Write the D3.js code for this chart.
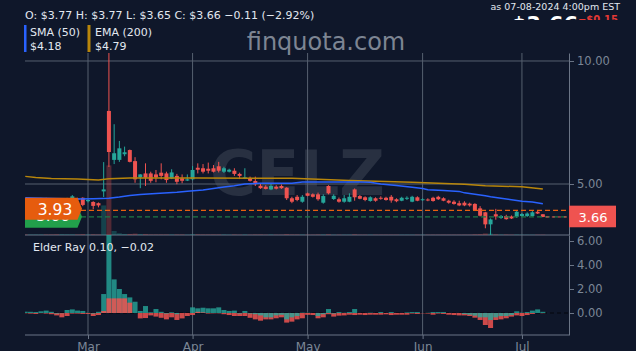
<!DOCTYPE html>
<html>
<head>
<meta charset="utf-8">
<script src="https://cdn.jsdelivr.net/npm/d3@7"></script>
<style>
  body { margin: 0; background: #0f172a; }
  svg { display: block; font-family: "DejaVu Sans", sans-serif; }
</style>
</head>
<body>
<svg id="chart" width="636" height="351"></svg>
<script>

// Trading days shown (Feb 13 - Jul 8, 2024), one list per month
var febDays = [13, 14, 15, 16, 20, 21, 22, 23, 26, 27, 28, 29]
var marDays = [1, 4, 5, 6, 7, 8, 11, 12, 13, 14, 15, 18, 19, 20, 21, 22, 25, 26, 27, 28]
var aprDays = [1, 2, 3, 4, 5, 8, 9, 10, 11, 12, 15, 16, 17, 18, 19, 22, 23, 24, 25, 26, 29, 30]
var mayDays = [1, 2, 3, 6, 7, 8, 9, 10, 13, 14, 15, 16, 17, 20, 21, 22, 23, 24, 28, 29, 30, 31]
var junDays = [3, 4, 5, 6, 7, 10, 11, 12, 13, 14, 17, 18, 20, 21, 24, 25, 26, 27, 28]
var julDays = [1, 2, 3, 5, 8]

// OHLC
var opens = [4.38, 4.34, 4.36, 4.40, 4.42, 4.35, 4.22, 4.12, 4.36, 4.40,
  4.42, 4.44, 4.30, 4.27, 4.22, 4.70, 7.97, 5.98, 5.98, 6.21,
  6.38, 5.93, 5.27, 5.43, 5.43, 5.39, 5.46, 5.43, 5.22, 5.33,
  5.23, 5.14, 5.19, 5.66, 5.64, 5.62, 5.64, 5.72, 5.50, 5.50,
  5.54, 5.41, 5.22, 5.23, 5.12, 4.93, 4.89, 4.78, 4.89, 4.92,
  4.85, 4.42, 4.48, 4.28, 4.62, 4.58, 4.58, 4.24, 4.92, 4.39,
  4.38, 4.28, 4.28, 4.78, 4.51, 4.46, 4.31, 4.42, 4.44, 4.44,
  4.48, 4.38, 4.32, 4.40, 4.28, 4.46, 4.35, 4.37, 4.44, 4.48,
  4.42, 4.32, 4.28, 4.22, 4.24, 4.20, 4.19, 4.01, 3.85, 3.36,
  3.77, 3.62, 3.70, 3.68, 3.67, 3.70, 3.70, 3.70, 3.87, 3.77]
var highs = [4.43, 4.42, 4.43, 4.44, 4.44, 4.38, 4.28, 4.43, 4.44, 4.55,
  4.44, 4.46, 4.38, 4.30, 4.25, 5.89, 11.0, 7.43, 6.75, 6.52,
  6.40, 6.09, 5.40, 5.84, 5.50, 5.57, 5.84, 5.50, 5.60, 5.41,
  5.39, 5.39, 5.73, 5.84, 5.81, 5.87, 5.77, 5.90, 5.70, 5.62,
  5.64, 5.46, 5.64, 5.30, 5.30, 5.00, 4.95, 5.00, 4.95, 4.98,
  4.87, 4.48, 4.55, 4.55, 4.65, 4.62, 4.65, 4.58, 4.95, 4.58,
  4.45, 4.55, 4.62, 4.82, 4.55, 4.50, 4.50, 4.46, 4.50, 4.48,
  4.55, 4.42, 4.48, 4.50, 4.52, 4.50, 4.42, 4.42, 4.48, 4.52,
  4.46, 4.36, 4.34, 4.32, 4.30, 4.24, 4.22, 4.10, 3.87, 3.60,
  3.99, 3.74, 3.75, 3.72, 3.92, 3.82, 3.85, 3.90, 3.92, 3.77]
var lows = [4.30, 4.28, 4.32, 4.35, 4.30, 4.18, 4.05, 4.10, 4.32, 4.36,
  4.32, 4.10, 4.25, 3.98, 4.05, 4.47, 5.69, 5.81, 5.90, 6.13,
  5.88, 5.05, 4.83, 4.92, 5.05, 5.07, 5.19, 5.05, 5.20, 4.99,
  5.03, 5.12, 5.15, 5.43, 5.43, 5.43, 5.47, 5.47, 5.45, 5.47,
  5.33, 5.20, 5.20, 5.10, 4.92, 4.80, 4.78, 4.75, 4.78, 4.80,
  4.35, 4.22, 4.30, 4.24, 4.50, 4.45, 4.32, 4.20, 4.58, 4.35,
  4.24, 4.24, 4.26, 4.32, 4.38, 4.30, 4.28, 4.28, 4.36, 4.32,
  4.24, 4.26, 4.30, 4.35, 4.26, 4.30, 4.32, 4.30, 4.28, 4.35,
  4.30, 4.20, 4.16, 4.10, 4.10, 4.08, 3.90, 3.68, 3.20, 2.80,
  3.55, 3.58, 3.55, 3.58, 3.62, 3.66, 3.66, 3.68, 3.78, 3.65]
var closes = [4.34, 4.36, 4.40, 4.42, 4.35, 4.22, 4.12, 4.36, 4.40, 4.50,
  4.36, 4.15, 4.35, 4.11, 4.13, 4.78, 6.30, 6.25, 6.45, 6.29,
  5.90, 5.19, 5.39, 5.26, 5.13, 5.27, 5.33, 5.16, 5.47, 5.09,
  5.13, 5.19, 5.57, 5.58, 5.50, 5.54, 5.50, 5.54, 5.64, 5.58,
  5.41, 5.33, 5.27, 5.13, 4.99, 4.83, 4.80, 4.92, 4.81, 4.83,
  4.42, 4.28, 4.35, 4.48, 4.52, 4.48, 4.38, 4.51, 4.62, 4.52,
  4.28, 4.42, 4.48, 4.46, 4.40, 4.35, 4.46, 4.32, 4.40, 4.35,
  4.33, 4.30, 4.44, 4.44, 4.48, 4.32, 4.38, 4.33, 4.31, 4.38,
  4.32, 4.24, 4.19, 4.13, 4.13, 4.13, 3.94, 3.71, 3.36, 3.56,
  3.68, 3.70, 3.57, 3.60, 3.87, 3.78, 3.80, 3.85, 3.80, 3.66]
// volume (millions, rough)
var volumes = [0.3, 0.3, 0.3, 0.3, 0.3, 0.3, 0.4, 0.5, 0.4, 0.4,
  0.3, 0.5, 0.3, 0.4, 0.3, 17, 40, 2.3, 1.0, 0.6,
  0.6, 0.8, 0.5, 0.5, 0.3, 0.3, 0.3, 0.3, 0.3, 0.3,
  0.3, 0.2, 0.5, 0.4, 0.3, 0.3, 0.3, 0.3, 0.3, 0.2,
  0.3, 0.2, 0.3, 0.2, 0.3, 0.3, 0.2, 0.3, 0.2, 0.2,
  0.5, 0.3, 0.3, 0.3, 0.2, 0.2, 0.3, 0.3, 0.4, 0.2,
  0.2, 0.2, 0.2, 0.4, 0.2, 0.2, 0.2, 0.2, 0.2, 0.2,
  0.2, 0.2, 0.2, 0.2, 0.2, 0.2, 0.2, 0.2, 0.2, 0.2,
  0.2, 0.2, 0.2, 0.2, 0.2, 0.2, 0.4, 0.5, 0.9, 0.8,
  0.4, 0.3, 0.3, 0.2, 0.3, 0.2, 0.2, 0.2, 0.2, 0.2]

// Elder Ray (bull power / bear power)
var bullPower = [0.11, 0.10, 0.08, 0.14, 0.20, 0.10, -0.05, -0.02, 0.25, 0.30,
  0.20, 0.17, 0.02, -0.05, 0.10, 1.58, 6.60, 2.80, 2.00, 1.58,
  1.30, 0.94, 0.17, 0.58, 0.06, 0.33, 0.10, -0.05, 0.06, -0.10,
  0.00, 0.00, 0.47, 0.39, 0.44, 0.39, 0.39, 0.47, 0.25, 0.17,
  0.20, -0.05, 0.17, -0.05, -0.10, -0.20, -0.36, -0.36, -0.20, -0.15,
  -0.53, -0.36, -0.25, 0.03, 0.02, 0.00, -0.25, -0.10, 0.33, -0.05,
  0.08, 0.02, 0.08, 0.33, 0.00, 0.00, 0.03, 0.00, 0.08, 0.00,
  0.08, 0.00, 0.00, 0.05, 0.08, 0.08, 0.00, 0.02, 0.08, 0.08,
  0.08, 0.00, 0.00, 0.00, -0.08, -0.14, -0.22, -0.36, -0.36, -0.58,
  -0.36, -0.25, -0.25, -0.17, 0.14, 0.03, 0.08, 0.20, 0.30, 0.10]
var bearPower = [-0.03, -0.05, -0.08, -0.02, -0.05, -0.10, -0.20, -0.36, -0.25, -0.05,
  -0.05, -0.08, -0.08, -0.25, -0.17, 0.17, 1.22, 1.22, 1.22, 1.22,
  0.86, 0.00, -0.45, -0.42, -0.20, -0.30, -0.40, -0.53, -0.36, -0.58,
  -0.45, -0.25, -0.17, 0.10, 0.05, -0.05, -0.03, -0.03, -0.10, -0.17,
  -0.25, -0.25, -0.25, -0.40, -0.53, -0.64, -0.53, -0.53, -0.44, -0.36,
  -0.80, -0.72, -0.53, -0.44, -0.15, -0.17, -0.44, -0.36, -0.10, -0.30,
  -0.22, -0.20, -0.14, -0.17, -0.14, -0.17, -0.14, -0.14, -0.14, -0.11,
  -0.17, -0.14, -0.14, -0.14, -0.05, -0.08, -0.03, -0.05, -0.14, -0.05,
  -0.08, -0.14, -0.17, -0.20, -0.20, -0.25, -0.39, -0.58, -1.00, -1.25,
  -0.58, -0.53, -0.44, -0.30, -0.20, -0.25, -0.17, -0.08, 0.00, -0.02]

// moving averages, read as (day index, value) points
var smaIdx = [0, 10, 13, 16, 18, 20, 22, 25, 29, 31, 34, 36, 38, 40, 42, 45, 51, 53, 64, 66, 68, 71, 74, 76, 77, 80, 83, 84, 86, 88, 89, 91, 93, 95, 97, 99]
var smaVal = [4.44, 4.39, 4.40, 4.42, 4.47, 4.53, 4.57, 4.61, 4.66, 4.71, 4.76, 4.82, 4.88, 4.93, 5.00, 5.03, 5.03, 5.08, 5.08, 5.07, 5.00, 4.94, 4.87, 4.82, 4.77, 4.74, 4.70, 4.64, 4.58, 4.52, 4.48, 4.42, 4.36, 4.30, 4.27, 4.20]
var emaIdx = [0, 2, 5, 10, 14, 16, 20, 33, 51, 56, 62, 74, 79, 84, 88, 95, 99]
var emaVal = [5.31, 5.26, 5.22, 5.20, 5.16, 5.21, 5.24, 5.24, 5.23, 5.19, 5.14, 5.07, 5.03, 4.99, 4.93, 4.89, 4.80]

var priceTicks = [5, 10]
var elderTicks = [0, 2, 4, 6]
var levelOrange = 3.93
var levelLast = 3.66

// ---------------------------------------------------------------
var svg = d3.select("#chart")
// note: "top" is taken by window.top, so plot edges get their own names
var plotL = 25, plotR = 569, plotT = 53, plotMid = 235, plotB = 335

var monthLists = [[1, febDays], [2, marDays], [3, aprDays], [4, mayDays], [5, junDays], [6, julDays]]
var dates = []
monthLists.forEach(function (m) {
  m[1].forEach(function (d) { dates.push(new Date(2024, m[0], d)) })
})

var x = d3.scaleLinear().domain([-0.05, 104]).range([plotL, plotR])
var y = d3.scaleLinear().domain([2.927, 10.325]).range([plotMid, plotT])
var yEr = d3.scaleLinear().domain([-1.833, 6.5]).range([plotB, plotMid])
var yVol = d3.scaleLinear().domain([0, 100]).range([plotMid, 61])

var gridColor = "#56606f"
var axisColor = "#6b7586"
var labelColor = "#7c8797"
var upColor = "#26a69a"
var downColor = "#ef5350"

var defs = svg.append("defs")
defs.append("clipPath").attr("id", "clipMain").append("rect")
  .attr("x", plotL).attr("y", plotT).attr("width", plotR - plotL).attr("height", plotMid - plotT)
defs.append("clipPath").attr("id", "clipLow").append("rect")
  .attr("x", plotL).attr("y", plotMid).attr("width", plotR - plotL).attr("height", plotB - plotMid)
defs.append("clipPath").attr("id", "clipHead").append("rect")
  .attr("x", 0).attr("y", 0).attr("width", 636).attr("height", 20)

svg.append("rect").attr("width", 636).attr("height", 351).attr("fill", "#0f172a")

// watermark
svg.append("text")
  .attr("x", 297.5).attr("y", 195)
  .attr("text-anchor", "middle")
  .style("font-size", "63px").style("font-weight", "bold")
  .attr("fill", "#283041")
  .text("CELZ")

svg.append("text")
  .attr("x", 326).attr("y", 50)
  .attr("text-anchor", "middle")
  .style("font-size", "24px")
  .attr("fill", "#7d8593")
  .text("finquota.com")

// month starts for the time axis
var monthStarts = []
dates.forEach(function (d, i) {
  if (i > 0 && d.getMonth() != dates[i - 1].getMonth()) monthStarts.push(i)
})

// grid
svg.append("g").selectAll("line").data(monthStarts).enter().append("line")
  .attr("x1", function (d) { return x(d) }).attr("x2", function (d) { return x(d) })
  .attr("y1", plotT).attr("y2", plotB)
  .attr("stroke", gridColor).attr("stroke-width", 1)

svg.append("g").selectAll("line").data(priceTicks).enter().append("line")
  .attr("x1", plotL).attr("x2", plotR)
  .attr("y1", function (d) { return y(d) }).attr("y2", function (d) { return y(d) })
  .attr("stroke", gridColor)

svg.append("line").attr("x1", plotL).attr("x2", plotR).attr("y1", plotMid).attr("y2", plotMid).attr("stroke", axisColor)
svg.append("line").attr("x1", plotL).attr("x2", plotR).attr("y1", plotB).attr("y2", plotB).attr("stroke", axisColor)

// ----- main panel
var main = svg.append("g").attr("clip-path", "url(#clipMain)")

main.selectAll(".vol").data(volumes).enter().append("rect")
  .attr("class", "vol")
  .attr("x", function (d, i) { return x(i) - 2.5 })
  .attr("width", 5)
  .attr("y", function (d) { return yVol(d) })
  .attr("height", function (d) { return plotMid - yVol(d) })
  .attr("fill", function (d, i) { return closes[i] >= opens[i] ? upColor : downColor })
  .attr("opacity", 0.3)

var candle = main.selectAll(".candle").data(dates).enter().append("g").attr("class", "candle")
candle.append("line")
  .attr("x1", function (d, i) { return x(i) }).attr("x2", function (d, i) { return x(i) })
  .attr("y1", function (d, i) { return y(highs[i]) })
  .attr("y2", function (d, i) { return y(lows[i]) })
  .attr("stroke", function (d, i) { return closes[i] >= opens[i] ? upColor : downColor })
  .attr("stroke-width", 1)
candle.append("rect")
  .attr("x", function (d, i) { return x(i) - 2 })
  .attr("width", 4)
  .attr("y", function (d, i) { return y(Math.max(opens[i], closes[i])) })
  .attr("height", function (d, i) { return Math.max(1, Math.abs(y(opens[i]) - y(closes[i]))) })
  .attr("fill", function (d, i) { return closes[i] >= opens[i] ? upColor : downColor })

var line = d3.line().x(function (d) { return x(d[0]) }).y(function (d) { return y(d[1]) })
main.append("path")
  .datum(emaIdx.map(function (d, i) { return [d, emaVal[i]] }))
  .attr("d", line).attr("fill", "none").attr("stroke", "#b8860b").attr("stroke-width", 1.5)
main.append("path")
  .datum(smaIdx.map(function (d, i) { return [d, smaVal[i]] }))
  .attr("d", line).attr("fill", "none").attr("stroke", "#2962ff").attr("stroke-width", 1.5)

main.append("line")
  .attr("x1", plotL).attr("x2", plotR)
  .attr("y1", y(levelOrange)).attr("y2", y(levelOrange))
  .attr("stroke", "#e8600f").attr("stroke-width", 1.3).attr("stroke-dasharray", "5,3")
main.append("line")
  .attr("x1", plotL).attr("x2", plotR)
  .attr("y1", y(levelLast)).attr("y2", y(levelLast))
  .attr("stroke", "#1e7b47").attr("stroke-width", 1.3).attr("stroke-dasharray", "5,3")
main.append("line")
  .attr("x1", x(99) + 3).attr("x2", plotR)
  .attr("y1", y(levelLast)).attr("y2", y(levelLast))
  .attr("stroke", downColor).attr("stroke-width", 1).attr("stroke-dasharray", "3,3")

// ----- elder ray panel
var low = svg.append("g").attr("clip-path", "url(#clipLow)")
low.append("line")
  .attr("x1", plotL).attr("x2", plotR).attr("y1", yEr(0)).attr("y2", yEr(0))
  .attr("stroke", "#000").attr("stroke-dasharray", "4,3").attr("opacity", 0.7)

// larger bar first, so the smaller one stays visible on top
var erBars = []
dates.forEach(function (d, i) {
  var pair = [{ i: i, v: bullPower[i], c: upColor, o: 0.8 }, { i: i, v: bearPower[i], c: downColor, o: 0.85 }]
  pair.sort(function (a, b) { return Math.abs(b.v) - Math.abs(a.v) })
  erBars = erBars.concat(pair)
})
low.selectAll(".er").data(erBars).enter().append("rect")
  .attr("class", "er")
  .attr("x", function (d) { return x(d.i) - 2.5 })
  .attr("width", 5)
  .attr("y", function (d) { return Math.min(yEr(d.v), yEr(0)) })
  .attr("height", function (d) { return Math.abs(yEr(d.v) - yEr(0)) })
  .attr("fill", function (d) { return d.c })
  .attr("opacity", function (d) { return d.o })

svg.append("text")
  .attr("x", 33).attr("y", 251)
  .style("font-size", "11px").attr("fill", "#e2e8f0")
  .text("Elder Ray " + bullPower[99].toFixed(2) + ", " + (bearPower[99] < 0 ? "\u2212" : "") + Math.abs(bearPower[99]).toFixed(2))

// ----- axes
function styleAxis(g) {
  g.selectAll("path").attr("stroke", axisColor)
  g.selectAll("line").attr("stroke", axisColor)
  g.selectAll("text").attr("fill", labelColor).style("font-size", "11.5px").style("font-family", "DejaVu Sans")
}
svg.append("g").attr("transform", "translate(" + plotR + ",0)")
  .call(d3.axisRight(y).tickValues(priceTicks).tickFormat(d3.format(".2f")).tickSize(5).tickSizeOuter(0))
  .call(styleAxis)
svg.append("g").attr("transform", "translate(" + plotR + ",0)")
  .call(d3.axisRight(yEr).tickValues(elderTicks).tickFormat(d3.format(".2f")).tickSize(5).tickSizeOuter(0))
  .call(styleAxis)
var xAxis = svg.append("g").attr("transform", "translate(0," + plotB + ")")
  .call(d3.axisBottom(x).tickValues(monthStarts)
    .tickFormat(function (i) { return d3.timeFormat("%b")(dates[i]) })
    .tickSize(4).tickSizeOuter(0))
  .call(styleAxis)
xAxis.select(".domain").remove()
xAxis.selectAll("text").style("font-size", "12px")

// ----- level labels
function flag(cy) {
  return "M" + plotL + "," + (cy - 11) + "L77.5," + (cy - 11) + "L82," + cy + "L77.5," + (cy + 11) + "L" + plotL + "," + (cy + 11) + "Z"
}
var gCy = y(levelLast) - 0.3
svg.append("path").attr("d", flag(gCy)).attr("fill", "#22a04b")
svg.append("text").attr("x", 53).attr("y", gCy + 4.3).attr("text-anchor", "middle")
  .style("font-size", "15px").attr("fill", "#fff").text(levelLast.toFixed(2))
var oCy = y(levelOrange) - 1.5
svg.append("path").attr("d", flag(oCy)).attr("fill", "#e65c0e")
svg.append("text").attr("x", 55).attr("y", oCy + 5.7).attr("text-anchor", "middle")
  .style("font-size", "15.5px").attr("fill", "#fff").text(levelOrange.toFixed(2))

svg.append("rect").attr("x", plotR).attr("y", y(levelLast) - 11.3).attr("width", 47).attr("height", 21.6)
  .attr("fill", downColor)
svg.append("text").attr("x", 593).attr("y", y(levelLast) + 4.6).attr("text-anchor", "middle")
  .style("font-size", "13px").attr("fill", "#fff").text(closes[99].toFixed(2))

// ----- header
svg.append("text").attr("x", 25).attr("y", 19)
  .style("font-size", "11px").attr("fill", "#e2e8f0")
  .text("O: $" + opens[99].toFixed(2) + " H: $" + highs[99].toFixed(2) + " L: $" + lows[99].toFixed(2) +
    " C: $" + closes[99].toFixed(2) + " \u22120.11 (\u22122.92%)")

svg.append("rect").attr("x", 24).attr("y", 25).attr("width", 2.5).attr("height", 27).attr("fill", "#2962ff")
svg.append("rect").attr("x", 87.5).attr("y", 25).attr("width", 3).attr("height", 27).attr("fill", "#b8860b")
var legend = [[30, "SMA (50)", "$4.18"], [95, "EMA (200)", "$4.79"]]
legend.forEach(function (l) {
  svg.append("text").attr("x", l[0]).attr("y", 35.5).style("font-size", "11px").attr("fill", "#e2e8f0").text(l[1])
  svg.append("text").attr("x", l[0]).attr("y", 49.5).style("font-size", "11px").attr("fill", "#e2e8f0").text(l[2])
})

svg.append("text").attr("x", 620).attr("y", 9.5).attr("text-anchor", "end")
  .style("font-size", "9.5px").attr("fill", "#e2e8f0").text("as 07-08-2024 4:00pm EST")
var head = svg.append("g").attr("clip-path", "url(#clipHead)")
head.append("text").attr("x", 578).attr("y", 31.5).attr("text-anchor", "end")
  .style("font-size", "21px").style("font-weight", "bold").attr("fill", "#fff").text("$" + closes[99].toFixed(2))
head.append("text").attr("x", 618).attr("y", 22.5).attr("text-anchor", "end")
  .style("font-size", "10px").style("font-weight", "bold").attr("fill", "#e53935").text("\u2212$0.15")

</script>
</body>
</html>
